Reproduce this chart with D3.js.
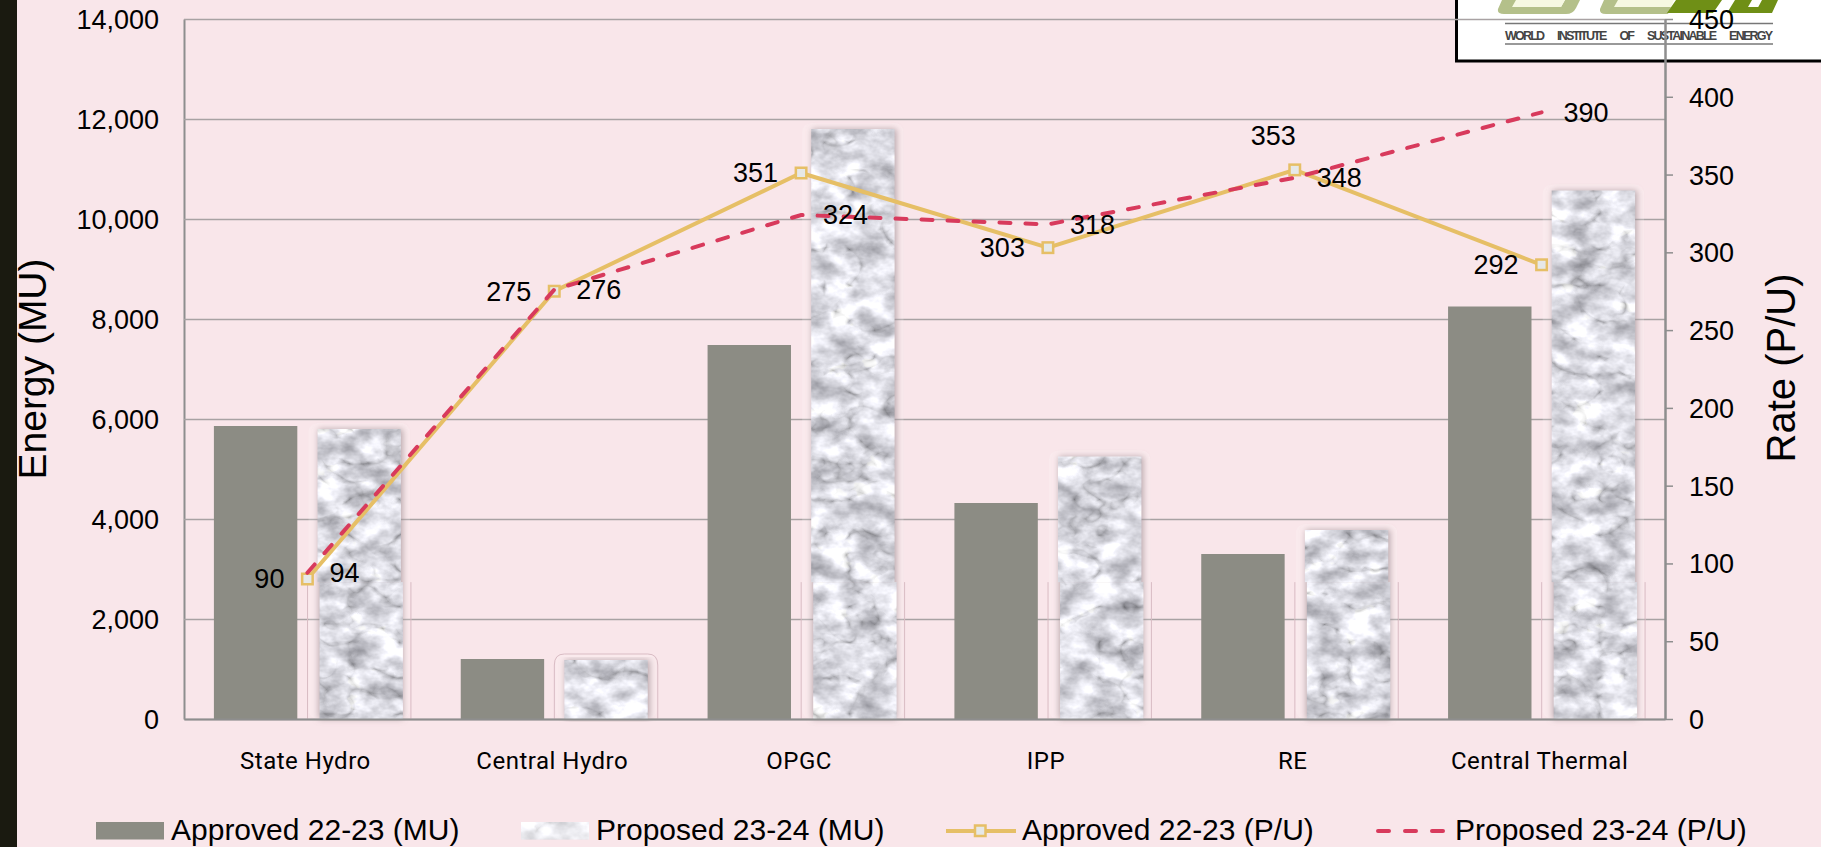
<!DOCTYPE html>
<html>
<head>
<meta charset="utf-8">
<script src="https://cdn.jsdelivr.net/npm/d3@7/dist/d3.min.js"></script>
<style>
html, body { margin: 0; padding: 0; background: #f9e6ea; overflow: hidden; }
text { font-family: "Liberation Sans", Arial, sans-serif; fill: #000; }
</style>
</head>
<body>
<div id="chart-container"></div>
<script>
const categories = ["State Hydro", "Central Hydro", "OPGC", "IPP", "RE", "Central Thermal"];
const approvedMU = [5860, 1200, 7480, 4320, 3300, 8250];
const proposedMU = [5800, 1180, 11800, 5250, 3780, 10570];
const approvedPU = [90, 275, 351, 303, 353, 292];
const proposedPU = [94, 276, 324, 318, 348, 390];
const energyTicks = [0, 2000, 4000, 6000, 8000, 10000, 12000, 14000];
const rateTicks = [0, 50, 100, 150, 200, 250, 300, 350, 400, 450];

const width = 1821;
const height = 847;
const plot = { left: 184, right: 1665, top: 19, bottom: 719 };

const svg = d3.select("#chart-container")
    .append("svg")
    .attr("width", width)
    .attr("height", height)
    .style("display", "block");

svg.append("rect")
    .attr("width", width)
    .attr("height", height)
    .attr("fill", "#f9e6ea");

// marble fill for the proposed bars
const defs = svg.append("defs");
const marble = defs.append("filter")
    .attr("id", "marble")
    .attr("filterUnits", "objectBoundingBox")
    .attr("x", 0).attr("y", 0).attr("width", 1).attr("height", 1)
    .attr("color-interpolation-filters", "sRGB");
marble.append("feTurbulence")
    .attr("type", "fractalNoise")
    .attr("baseFrequency", "0.035 0.05")
    .attr("numOctaves", 4)
    .attr("seed", 7)
    .attr("result", "cloud");
marble.append("feColorMatrix")
    .attr("in", "cloud")
    .attr("type", "matrix")
    .attr("values", "0.7 0 0 0 0.52  0.7 0 0 0 0.52  0.7 0 0 0 0.55  0 0 0 0 1")
    .attr("result", "cloudGrey");
marble.append("feTurbulence")
    .attr("type", "turbulence")
    .attr("baseFrequency", "0.02 0.028")
    .attr("numOctaves", 3)
    .attr("seed", 21)
    .attr("result", "vein");
marble.append("feColorMatrix")
    .attr("in", "vein")
    .attr("type", "matrix")
    .attr("values", "0 0 0 1 0  0 0 0 1 0  0 0 0 1 0  0 0 0 0 1")
    .attr("result", "veinGrey");
const veinTable = marble.append("feComponentTransfer")
    .attr("in", "veinGrey")
    .attr("result", "veinLines");
["feFuncR", "feFuncG", "feFuncB"].forEach(function(f) {
    veinTable.append(f)
        .attr("type", "table")
        .attr("tableValues", "0.7 0.84 0.94 1 1 1 1 1 1 1 1 1 1 1 1 1");
});
marble.append("feBlend")
    .attr("in", "cloudGrey")
    .attr("in2", "veinLines")
    .attr("mode", "multiply")
    .attr("result", "stone");
marble.append("feComposite")
    .attr("in", "stone")
    .attr("in2", "SourceGraphic")
    .attr("operator", "in");

const soft = defs.append("filter")
    .attr("id", "soft")
    .attr("x", "-30%").attr("y", "-5%").attr("width", "160%").attr("height", "110%");
soft.append("feGaussianBlur").attr("stdDeviation", 3);

// logo sits under the chart, cut off by the top of the page
const logo = svg.append("g");
logo.append("rect")
    .attr("x", 1456.5).attr("y", -10)
    .attr("width", 380).attr("height", 71)
    .attr("fill", "#fff")
    .attr("stroke", "#000")
    .attr("stroke-width", 3);
logo.append("path")
    .attr("d", "M1502,0 L1498,9 Q1497,14 1504,14 L1566,14 Q1573,14 1576,8 L1580,0 L1565,0 L1561,7 L1516,7 L1519,0 Z")
    .attr("fill", "#b4c08a");
logo.append("path")
    .attr("d", "M1604,0 L1600,9 Q1599,14 1606,14 L1668,14 L1671,7 L1618,7 L1621,0 Z")
    .attr("fill", "#b4c08a");
logo.append("path")
    .attr("d", "M1516,0 L1512,7 L1561,7 L1565,0 Z M1618,0 L1614,7 L1671,7 L1674,0 Z")
    .attr("fill", "#f6f8e2");
logo.append("path")
    .attr("d", "M1676,0 L1667,13 L1713,13 L1722,0 Z M1735,0 L1727,13 L1755,13 L1760,7 L1748,7 L1752,0 Z M1762,0 L1755,13 L1772,13 L1778,0 Z")
    .attr("fill", "#6f8f16");
logo.append("line")
    .attr("x1", 1505).attr("x2", 1773).attr("y1", 23.5).attr("y2", 23.5)
    .attr("stroke", "#777").attr("stroke-width", 1.5);
logo.append("line")
    .attr("x1", 1505).attr("x2", 1773).attr("y1", 44).attr("y2", 44)
    .attr("stroke", "#777").attr("stroke-width", 1.5);
logo.append("text")
    .attr("x", 1505)
    .attr("y", 39.5)
    .attr("textLength", 268)
    .attr("lengthAdjust", "spacing")
    .style("font-family", "'Liberation Sans Narrow', 'Liberation Sans', sans-serif")
    .style("font-size", "12.5px")
    .style("font-weight", "bold")
    .style("word-spacing", "12px")
    .style("fill", "#444")
    .text("WORLD INSTITUTE OF SUSTAINABLE ENERGY");

const x0 = d3.scaleBand()
    .domain(categories)
    .range([plot.left, plot.right])
    .paddingInner(0.2423)
    .paddingOuter(0.12115);
const x1 = d3.scaleBand()
    .domain(["approved", "proposed"])
    .range([0, x0.bandwidth()])
    .paddingInner(0.195);
const yEnergy = d3.scaleLinear().domain([0, 14000]).range([plot.bottom, plot.top]);
const yRate = d3.scaleLinear().domain([0, 450]).range([plot.bottom, plot.top]);
const xPoint = d => x0(d) + x0.bandwidth() / 2;

// left axis carries the gridlines
const leftAxis = svg.append("g")
    .attr("transform", `translate(${plot.left},0)`)
    .call(d3.axisLeft(yEnergy)
        .tickValues(energyTicks)
        .tickFormat(d3.format(","))
        .tickSize(-(plot.right - plot.left))
        .tickSizeOuter(0)
        .tickPadding(25));
leftAxis.selectAll(".tick line").attr("stroke", "#a8a2a3").attr("stroke-width", 1.5);
leftAxis.select(".domain").attr("stroke", "#8e8e8e").attr("stroke-width", 2);
leftAxis.selectAll("text").style("font-size", "27px").attr("dy", "0.35em");

// proposed bars: faint halo, shadow, marble
const splitY = yRate(88);
const bars = svg.append("g");
categories.forEach(function(c, i) {
    const a = approvedMU[i];
    const p = proposedMU[i];
    const bx = x0(c) + x1("proposed");
    const bw = x1.bandwidth();
    const top = yEnergy(p);
    const h = yEnergy(0) - top;

    bars.append("rect")
        .attr("x", x0(c) + x1("approved"))
        .attr("y", yEnergy(a))
        .attr("width", x1.bandwidth())
        .attr("height", yEnergy(0) - yEnergy(a))
        .attr("fill", "#8c8c84");

    bars.append("rect")
        .attr("x", bx - 9)
        .attr("y", top - 6)
        .attr("width", bw + 18)
        .attr("height", h + 6)
        .attr("rx", 9)
        .attr("fill", "#fff")
        .attr("fill-opacity", 0.18);

    // thin outline left over from the picture effect
    if (i === 1) {
        bars.append("path")
            .attr("d", `M${bx - 10},${plot.bottom} V${top + 5} Q${bx - 10},${top - 6} ${bx},${top - 6} H${bx + bw} Q${bx + bw + 10},${top - 6} ${bx + bw + 10},${top + 5} V${plot.bottom}`)
            .attr("fill", "none")
            .attr("stroke", "#d9bcc4")
            .attr("stroke-width", 1);
    } else {
        [bx - 10, bx + bw + 10].forEach(function(lx) {
            bars.append("line")
                .attr("x1", lx).attr("x2", lx)
                .attr("y1", splitY).attr("y2", plot.bottom)
                .attr("stroke", "#d9bcc4")
                .attr("stroke-width", 1);
        });
    }

    bars.append("rect")
        .attr("x", bx + 1)
        .attr("y", top)
        .attr("width", bw + 1)
        .attr("height", h)
        .attr("fill", "#8d7a80")
        .attr("fill-opacity", 0.6)
        .attr("filter", "url(#soft)");

    // the tall bars step 2px to the right near the foot, as in the slide
    const tall = i !== 1;
    bars.append("rect")
        .attr("x", bx)
        .attr("y", top)
        .attr("width", bw)
        .attr("height", tall ? splitY - top : h)
        .attr("fill", "#fff")
        .attr("filter", "url(#marble)");
    if (tall) {
        bars.append("rect")
            .attr("x", bx + 2)
            .attr("y", splitY)
            .attr("width", bw)
            .attr("height", plot.bottom - splitY)
            .attr("fill", "#fff")
            .attr("filter", "url(#marble)");
    }
});

// bottom axis
const bottomAxis = svg.append("g")
    .attr("transform", `translate(0,${plot.bottom})`)
    .call(d3.axisBottom(x0).tickSize(0).tickPadding(33));
bottomAxis.select(".domain").attr("stroke", "#8e8e8e").attr("stroke-width", 2);
bottomAxis.selectAll("text")
    .attr("dx", -2)
    .style("font-family", "Roboto, sans-serif")
    .style("font-size", "24px")
    .style("letter-spacing", "0.5px");

// right axis
const rightAxis = svg.append("g")
    .attr("transform", `translate(${plot.right},0)`)
    .call(d3.axisRight(yRate)
        .tickValues(rateTicks)
        .tickSize(8)
        .tickSizeOuter(0)
        .tickPadding(16));
rightAxis.selectAll(".tick line").attr("stroke", "#8e8e8e").attr("stroke-width", 1.5);
rightAxis.select(".domain").attr("stroke", "#8e8e8e").attr("stroke-width", 2.5);
rightAxis.selectAll("text").style("font-size", "27px").attr("dy", "0.35em");

// rate lines
const lineGen = d3.line()
    .x((d, i) => xPoint(categories[i]))
    .y(d => yRate(d));

svg.append("path")
    .datum(approvedPU)
    .attr("fill", "none")
    .attr("stroke", "#e6bf66")
    .attr("stroke-width", 4)
    .attr("d", lineGen);

svg.append("g").selectAll("rect")
    .data(approvedPU)
    .join("rect")
    .attr("x", (d, i) => xPoint(categories[i]) - 5.25)
    .attr("y", d => yRate(d) - 5.25)
    .attr("width", 10.5)
    .attr("height", 10.5)
    .attr("fill", "#e6e8e8")
    .attr("stroke", "#e6bf66")
    .attr("stroke-width", 2.5);

svg.append("path")
    .datum(proposedPU)
    .attr("fill", "none")
    .attr("stroke", "#d83a5c")
    .attr("stroke-width", 4)
    .attr("stroke-linecap", "round")
    .attr("stroke-dasharray", "11 15")
    .attr("d", lineGen);

// data labels, approved sit to the left and proposed to the right
svg.append("g").selectAll("text")
    .data(approvedPU)
    .join("text")
    .attr("x", (d, i) => xPoint(categories[i]) + (i === 4 ? 1 : -23))
    .attr("y", (d, i) => yRate(d) + (i === 4 ? -34 : 0))
    .attr("dy", "0.35em")
    .attr("text-anchor", "end")
    .style("font-size", "27px")
    .text(d => d);

svg.append("g").selectAll("text")
    .data(proposedPU)
    .join("text")
    .attr("x", (d, i) => xPoint(categories[i]) + 22)
    .attr("y", d => yRate(d))
    .attr("dy", "0.35em")
    .style("font-size", "27px")
    .text(d => d);

// black strip on the left edge of the slide
svg.append("rect")
    .attr("width", 17)
    .attr("height", height)
    .attr("fill", "#1a1a10");

// axis titles
svg.append("text")
    .attr("transform", "translate(46,369) rotate(-90)")
    .attr("text-anchor", "middle")
    .style("font-size", "39px")
    .text("Energy (MU)");

svg.append("text")
    .attr("transform", "translate(1795,368) rotate(-90)")
    .attr("text-anchor", "middle")
    .style("font-size", "40px")
    .text("Rate (P/U)");

// legend
const legendY = 840;
const legendFont = "30px";
svg.append("rect")
    .attr("x", 96).attr("y", 822).attr("width", 68).attr("height", 17.5)
    .attr("fill", "#8c8c84");
svg.append("text").attr("x", 171).attr("y", legendY)
    .style("font-size", legendFont).text("Approved 22-23 (MU)");

svg.append("rect")
    .attr("x", 521).attr("y", 822).attr("width", 68).attr("height", 17.5)
    .attr("fill", "#fff")
    .attr("filter", "url(#marble)");
svg.append("rect")
    .attr("x", 521).attr("y", 822).attr("width", 68).attr("height", 17.5)
    .attr("fill", "#fff")
    .attr("fill-opacity", 0.4);
svg.append("text").attr("x", 596).attr("y", legendY)
    .style("font-size", legendFont).text("Proposed 23-24 (MU)");

svg.append("line")
    .attr("x1", 946).attr("x2", 1016).attr("y1", 831).attr("y2", 831)
    .attr("stroke", "#e6bf66").attr("stroke-width", 4);
svg.append("rect")
    .attr("x", 975).attr("y", 825.5).attr("width", 10.5).attr("height", 10.5)
    .attr("fill", "#e6e8e8").attr("stroke", "#e6bf66").attr("stroke-width", 2.5);
svg.append("text").attr("x", 1022).attr("y", legendY)
    .style("font-size", legendFont).text("Approved 22-23 (P/U)");

svg.append("line")
    .attr("x1", 1378).attr("x2", 1446).attr("y1", 831).attr("y2", 831)
    .attr("stroke", "#d83a5c").attr("stroke-width", 4)
    .attr("stroke-linecap", "round")
    .attr("stroke-dasharray", "11 16");
svg.append("text").attr("x", 1455).attr("y", legendY)
    .style("font-size", legendFont).text("Proposed 23-24 (P/U)");
</script>
</body>
</html>
